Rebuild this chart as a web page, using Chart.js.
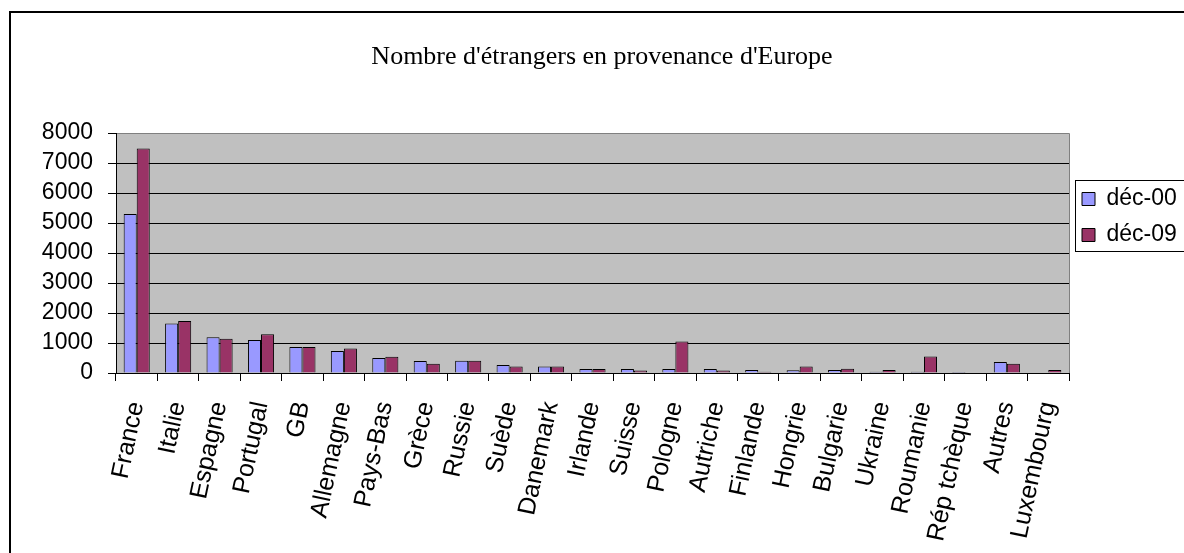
<!DOCTYPE html>
<html>
<head>
<meta charset="utf-8">
<script src="https://cdn.jsdelivr.net/npm/chart.js@4.4.1/dist/chart.umd.min.js"></script>
<style>
  html, body { margin: 0; padding: 0; background: #ffffff; }
  #wrap { width: 1184px; height: 553px; }
</style>
</head>
<body>
<div id="wrap"><canvas id="c" width="1184" height="553"></canvas></div>
<script>
const categories = ['France', 'Italie', 'Espagne', 'Portugal', 'GB', 'Allemagne', 'Pays-Bas', 'Grèce', 'Russie', 'Suède', 'Danemark', 'Irlande', 'Suisse', 'Pologne', 'Autriche', 'Finlande', 'Hongrie', 'Bulgarie', 'Ukraine', 'Roumanie', 'Rép tchèque', 'Autres', 'Luxembourg'];
const seriesNames = ['déc-00', 'déc-09'];
const dec00 = [5300, 1650, 1190, 1100, 870, 730, 500, 400, 410, 270, 220, 130, 130, 130, 130, 100, 90, 100, 40, 40, 30, 370, 0];
const dec09 = [7480, 1730, 1140, 1290, 870, 820, 540, 310, 410, 220, 220, 130, 80, 1050, 80, 40, 220, 140, 100, 550, 0, 310, 100];
const yTicks = [0, 1000, 2000, 3000, 4000, 5000, 6000, 7000, 8000];
const titleText = "Nombre d'étrangers en provenance d'Europe";

const SANS = "'Liberation Sans', Arial, sans-serif";
const SERIF = "'Liberation Serif', 'Times New Roman', serif";

const framePlugin = {
  id: 'frame',
  beforeDraw(chart) {
    const ctx = chart.ctx;
    const a = chart.chartArea;
    ctx.save();
    ctx.fillStyle = '#ffffff';
    ctx.fillRect(0, 0, chart.width, chart.height);
    // outer chart frame
    ctx.strokeStyle = '#000000';
    ctx.lineWidth = 2;
    ctx.strokeRect(10, 12, chart.width + 20, chart.height + 20);
    // plot area
    ctx.fillStyle = '#C0C0C0';
    ctx.fillRect(a.left, a.top, a.right - a.left, a.bottom - a.top);
    ctx.strokeStyle = '#808080';
    ctx.lineWidth = 1;
    ctx.beginPath();
    ctx.moveTo(a.left, a.top + 0.5);
    ctx.lineTo(a.right + 0.5, a.top + 0.5);
    ctx.lineTo(a.right + 0.5, a.bottom);
    ctx.stroke();
    ctx.restore();
  },
  afterDraw(chart) {
    // frame round the legend
    const boxes = chart.legend && chart.legend.legendHitBoxes;
    if (!boxes || !boxes.length) return;
    const first = boxes[0], last = boxes[boxes.length - 1];
    const ctx = chart.ctx;
    ctx.save();
    ctx.strokeStyle = '#000000';
    ctx.lineWidth = 1;
    const l = Math.round(first.left - 7) + 0.5;
    const t = Math.round(first.top - 8) + 0.5;
    const b = Math.round(last.top + last.height + 4) + 0.5;
    ctx.strokeRect(l, t, chart.width, b - t);
    ctx.restore();
  }
};

new Chart(document.getElementById('c'), {
  type: 'bar',
  data: {
    labels: categories,
    datasets: [
      { label: seriesNames[0], data: dec00, backgroundColor: '#9999FF', borderColor: '#000000', borderWidth: 1, categoryPercentage: 0.63, barPercentage: 1.0 },
      { label: seriesNames[1], data: dec09, backgroundColor: '#993366', borderColor: '#000000', borderWidth: 1, categoryPercentage: 0.63, barPercentage: 1.0 }
    ]
  },
  options: {
    responsive: false,
    animation: false,
    layout: { padding: { left: 20, right: 0, top: 0, bottom: 0 } },
    plugins: {
      legend: {
        display: true,
        position: 'right',
        align: 'start',
        fullSize: false,
        maxWidth: 115,
        title: { display: true, text: ' ', font: { size: 10, lineHeight: 1 }, padding: { top: 31.5, bottom: 0 } },
        labels: {
          boxWidth: 13,
          boxHeight: 13,
          padding: 13,
          color: '#000000',
          font: { family: SANS, size: 23 }
        }
      },
      tooltip: { enabled: false },
      title: {
        display: true,
        text: titleText,
        color: '#000000',
        font: { family: SERIF, size: 26, weight: 'normal', lineHeight: 1.2 },
        padding: { top: 41.4, bottom: 60.4 }
      }
    },
    scales: {
      x: {
        offset: true,
        grid: { display: true, drawOnChartArea: false, drawTicks: true, tickLength: 8, color: '#000000', tickColor: '#000000' },
        border: { display: true, color: '#000000', width: 1 },
        ticks: {
          autoSkip: false,
          maxRotation: 78,
          minRotation: 78,
          padding: 18,
          color: '#000000',
          font: { family: SANS, size: 25 }
        },
        afterFit(scale) { scale.height = 180; }
      },
      y: {
        min: 0,
        max: 8000,
        afterBuildTicks(scale) { scale.ticks = yTicks.map(v => ({ value: v })); },
        grid: {
          drawTicks: true,
          tickLength: 8,
          color: (c) => (c.tick && c.tick.value === 8000) ? '#808080' : '#000000',
          tickColor: '#000000',
          lineWidth: 1
        },
        border: { display: true, color: '#000000', width: 1 },
        ticks: {
          autoSkip: false,
          padding: 15,
          color: '#000000',
          font: { family: SANS, size: 23 },
          callback: (v) => String(v)
        },
        afterFit(scale) { scale.width = 96; }
      }
    }
  },
  plugins: [framePlugin]
});
</script>
</body>
</html>
